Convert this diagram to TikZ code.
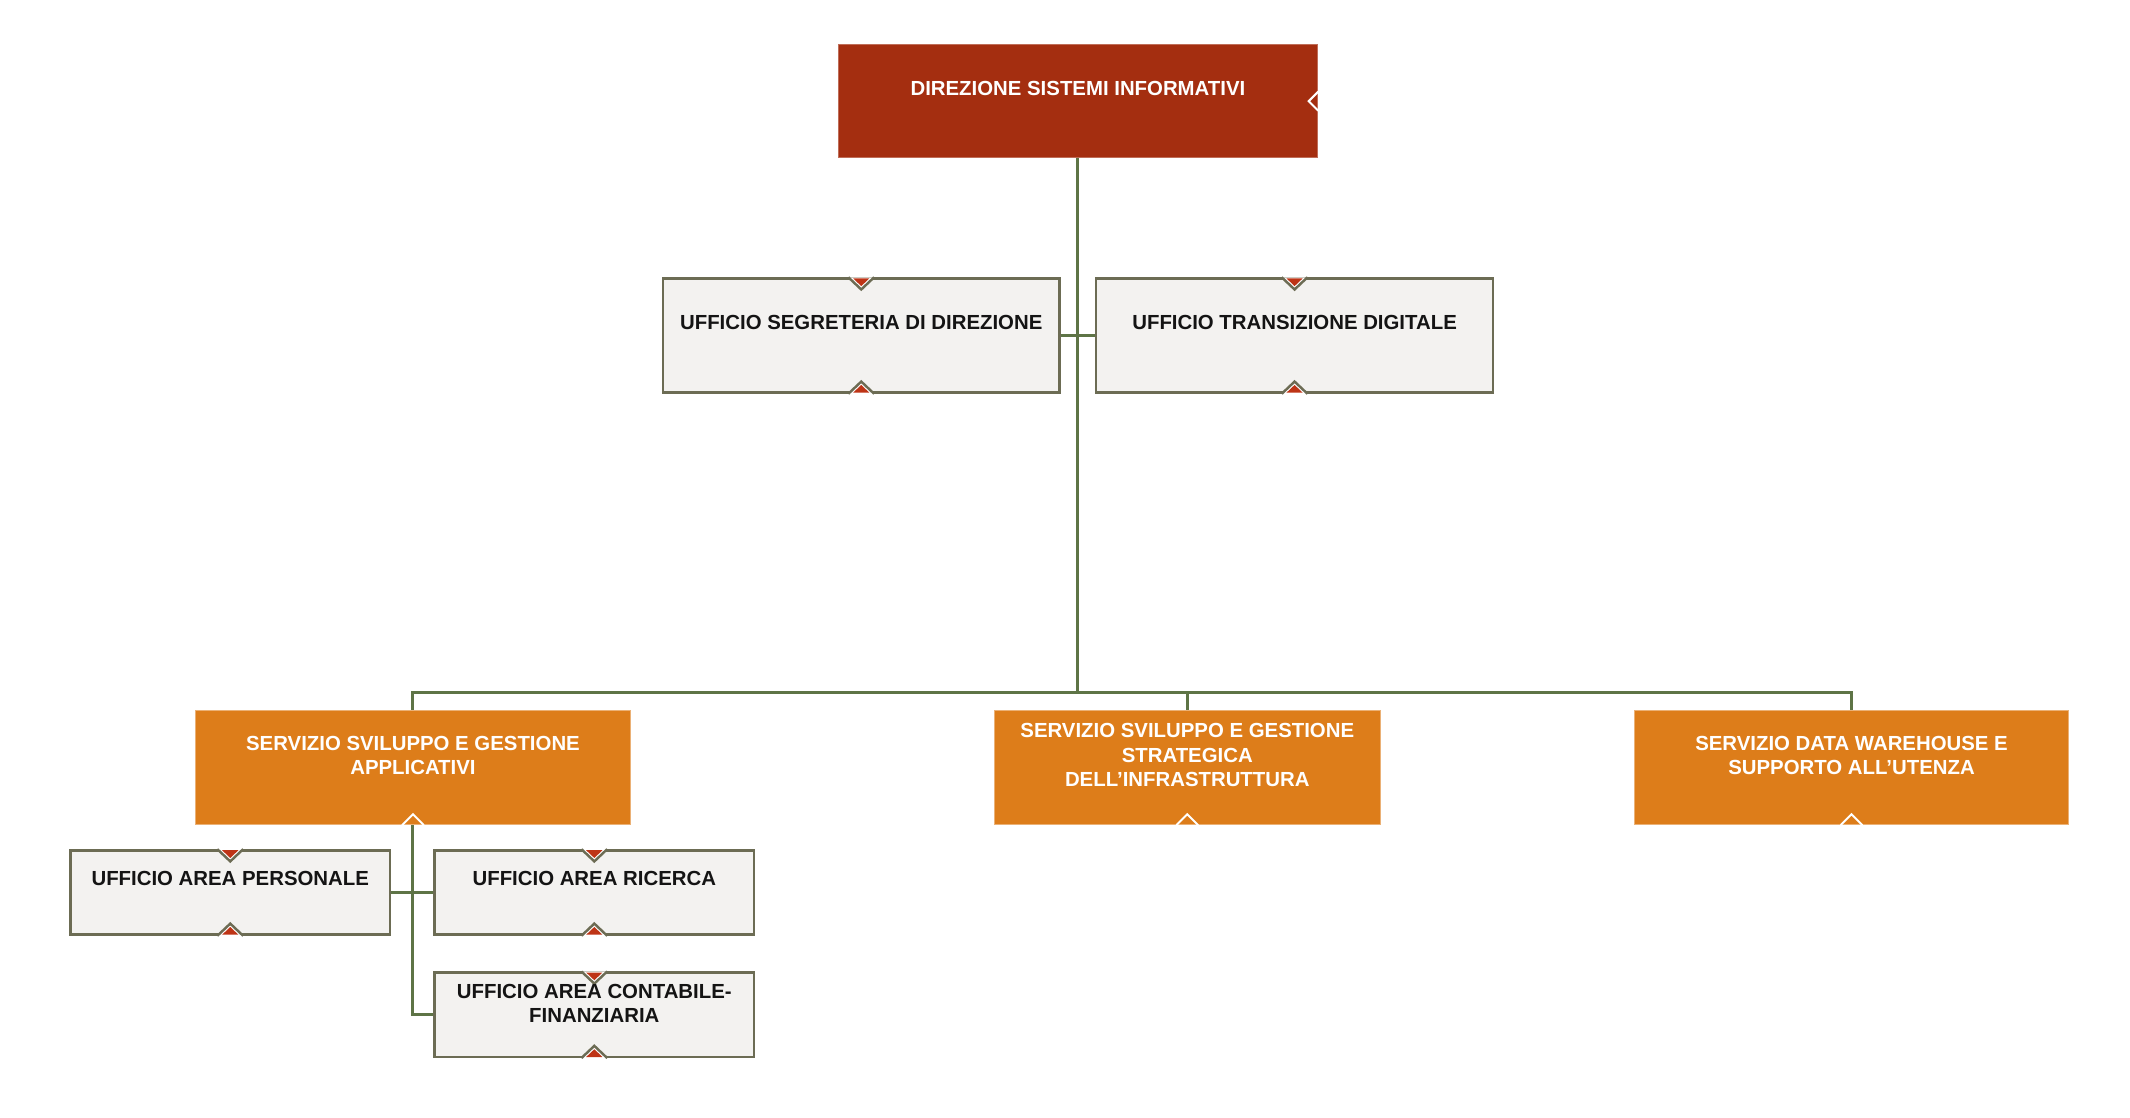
\documentclass[tikz,border=0pt]{standalone}
\usepackage{fontspec}
\setmainfont{Liberation Sans}
\definecolor{topred}{RGB}{164,46,16}
\definecolor{orangebox}{RGB}{221,125,26}
\definecolor{grayfill}{RGB}{243,242,240}
\definecolor{grayline}{RGB}{108,108,84}
\definecolor{conn}{RGB}{94,116,70}
\definecolor{markred}{RGB}{190,52,22}
\newcommand\graymarks[1]{%
  \fill[white] ([xshift=-9pt]#1.north) -- ([xshift=9pt]#1.north) -- ([yshift=-9pt]#1.north) -- cycle;
  \fill[markred] ([xshift=-6pt,yshift=-0.8pt]#1.north) -- ([xshift=6pt,yshift=-0.8pt]#1.north) -- ([yshift=-6.5pt]#1.north) -- cycle;
  \draw[grayline,line width=1.8pt,line join=miter] ([xshift=-9.5pt]#1.north) -- ([yshift=-9pt]#1.north) -- ([xshift=9.5pt]#1.north);
  \fill[white] ([xshift=-9pt]#1.south) -- ([xshift=9pt]#1.south) -- ([yshift=9pt]#1.south) -- cycle;
  \fill[markred] ([xshift=-6pt,yshift=0.8pt]#1.south) -- ([xshift=6pt,yshift=0.8pt]#1.south) -- ([yshift=6.5pt]#1.south) -- cycle;
  \draw[grayline,line width=1.8pt,line join=miter] ([xshift=-9.5pt]#1.south) -- ([yshift=9pt]#1.south) -- ([xshift=9.5pt]#1.south);
}
\newcommand\whitemark[1]{%
  \draw[white,line width=1.5pt] ([xshift=-8pt]#1.south) -- ([yshift=8pt]#1.south) -- ([xshift=8pt]#1.south);
}
\begin{document}
\begin{tikzpicture}[x=1pt,y=-1pt,
  every node/.style={font=\fontsize{15}{18}\selectfont\bfseries, inner sep=0pt},
  topbox/.style={rectangle, fill=topred, draw=topred!70!white, line width=0.8pt, minimum width=353pt, minimum height=83pt},
  orbox/.style={rectangle, fill=orangebox, draw=orangebox!60!white, line width=0.8pt, minimum height=84pt},
  grbox/.style={rectangle, fill=grayfill, draw=grayline, line width=1.8pt, minimum height=84pt},
  smbox/.style={rectangle, fill=grayfill, draw=grayline, line width=1.8pt, minimum width=235pt, minimum height=62pt},
  wtxt/.style={text=white, align=center},
  btxt/.style={text=black!92, align=center},
  link/.style={draw=conn, line width=2.2pt}
]
\useasboundingbox (0,0) rectangle (1568,822.3);

% boxes
\node[topbox] (top) at (793.5,74.5) {};
\node[grbox, minimum width=292pt] (a1) at (634,247) {};
\node[grbox, minimum width=292pt] (a2) at (953,247) {};
\node[orbox, minimum width=320pt] (s1) at (304,565) {};
\node[orbox, minimum width=284pt] (s2) at (874,565) {};
\node[orbox, minimum width=320pt] (s3) at (1363,565) {};
\node[smbox] (u1) at (169.5,657) {};
\node[smbox] (u2) at (437.5,657) {};
\node[smbox] (u3) at (437.5,747) {};

% connectors
\coordinate (bus) at (793.5,510);
\draw[link] (top.south) -- (top.south |- bus);
\draw[link] (a1.east) -- (a2.west);
\draw[link] (s1.north) |- (s3.north |- bus) -- (s3.north);
\draw[link] (s2.north) -- (s2.north |- bus);
\draw[link] (s1.south) |- (u3.west);
\draw[link] (u1.east) -- (u2.west);

% markers
\graymarks{a1}
\graymarks{a2}
\graymarks{u1}
\graymarks{u2}
\graymarks{u3}
\whitemark{s1}
\whitemark{s2}
\whitemark{s3}
\draw[white,line width=1.5pt] ([yshift=7pt]top.east) -- ([xshift=-7pt]top.east) -- ([yshift=-7pt]top.east);

% texts
\node[wtxt] (ttop) at ([yshift=-32.5pt]top.north) {DIREZIONE SISTEMI INFORMATIVI};
\node[btxt] (ta1) at ([yshift=-33.5pt]a1.north) {UFFICIO SEGRETERIA DI DIREZIONE};
\node[btxt] (ta2) at ([yshift=-33.5pt]a2.north) {UFFICIO TRANSIZIONE DIGITALE};
\node[wtxt] (ts1) at ([yshift=-33.5pt]s1.north) {SERVIZIO SVILUPPO E GESTIONE\\APPLICATIVI};
\node[wtxt] (ts2) at ([yshift=-33.5pt]s2.north) {SERVIZIO SVILUPPO E GESTIONE\\STRATEGICA\\DELL’INFRASTRUTTURA};
\node[wtxt] (ts3) at ([yshift=-33.5pt]s3.north) {SERVIZIO DATA WAREHOUSE E\\SUPPORTO ALL’UTENZA};
\node[btxt] (tu1) at ([yshift=-21.5pt]u1.north) {UFFICIO AREA PERSONALE};
\node[btxt] (tu2) at ([yshift=-21.5pt]u2.north) {UFFICIO AREA RICERCA};
\node[btxt] (tu3) at ([yshift=-23.5pt]u3.north) {UFFICIO AREA CONTABILE-\\FINANZIARIA};
\end{tikzpicture}
\end{document}
